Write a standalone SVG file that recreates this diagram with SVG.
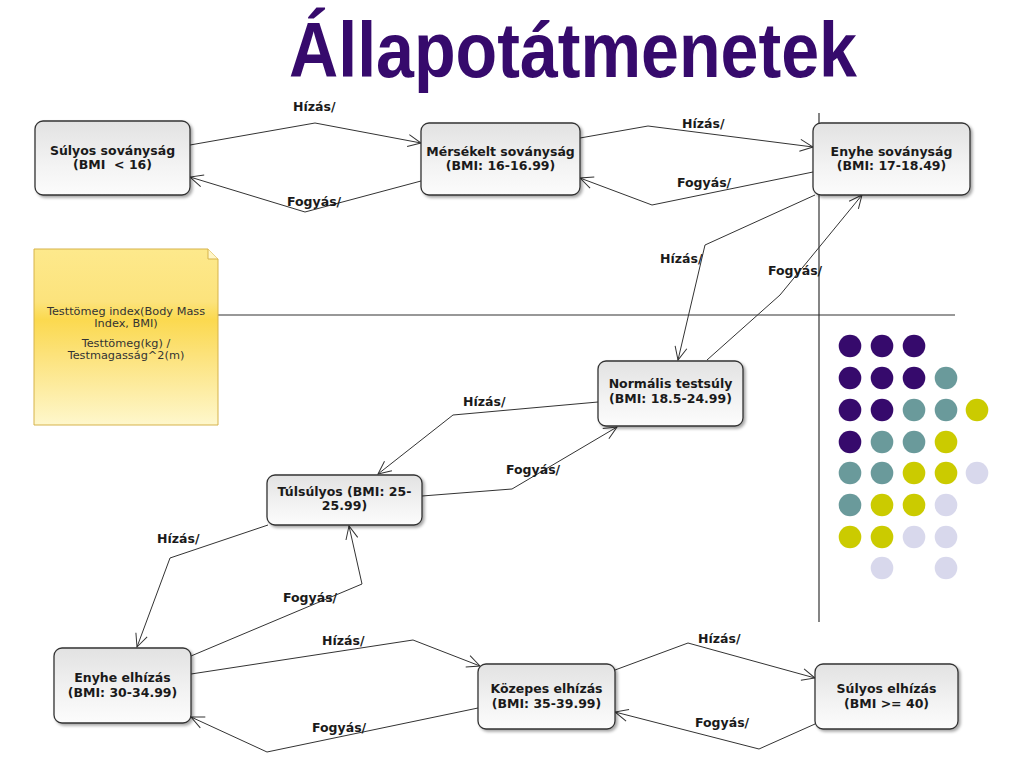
<svg xmlns="http://www.w3.org/2000/svg" width="1024" height="768" viewBox="0 0 1024 768">
<defs>
<linearGradient id="gBox" x1="0" y1="0" x2="0" y2="1">
<stop offset="0" stop-color="#e2e2e2"/>
<stop offset="0.6" stop-color="#f3f3f3"/>
<stop offset="1" stop-color="#fcfcfc"/>
</linearGradient>
<linearGradient id="gNote" x1="0" y1="0" x2="0" y2="1">
<stop offset="0" stop-color="#fde98c"/>
<stop offset="0.3" stop-color="#fce37c"/>
<stop offset="0.4" stop-color="#fbd94f"/>
<stop offset="0.6" stop-color="#fce27a"/>
<stop offset="1" stop-color="#fef7cc"/>
</linearGradient>
<filter id="sh" x="-10%" y="-10%" width="125%" height="130%">
<feDropShadow dx="2" dy="2" stdDeviation="1.5" flood-color="#000" flood-opacity="0.35"/>
</filter>
<marker id="arr" markerUnits="userSpaceOnUse" markerWidth="16" markerHeight="14" refX="13" refY="6" orient="auto" overflow="visible">
<path d="M0,0 L13,6 L0,12" fill="none" stroke="#333" stroke-width="1"/>
</marker>
<style>
.box{fill:url(#gBox);stroke:#333;stroke-width:1.3;filter:url(#sh)}
.nt{font-family:"DejaVu Sans",Verdana,sans-serif;font-weight:bold;font-size:12.5px;fill:#1a1a1a;text-anchor:middle}
.lb{font-family:"DejaVu Sans",Verdana,sans-serif;font-weight:bold;font-size:12.5px;fill:#1a1a1a}
.e{fill:none;stroke:#333;stroke-width:1;marker-end:url(#arr)}
.ln{stroke:#333;stroke-width:1.2}
.p{fill:#360a6c}.t{fill:#6a9a9b}.y{fill:#cbcb00}.l{fill:#d8d8ec}
</style>
</defs>
<rect width="1024" height="768" fill="#fff"/>
<text x="289" y="77" font-family="'Liberation Sans',Arial,sans-serif" font-weight="bold" font-size="78" fill="#360a6c" textLength="568" lengthAdjust="spacingAndGlyphs">Állapotátmenetek</text>

<g id="guides">
<line class="ln" x1="819" y1="113" x2="819" y2="622"/>
<line class="ln" x1="218" y1="315" x2="955" y2="315"/>
</g>

<g id="dots">
<circle class="p" cx="850" cy="346" r="11.3"/><circle class="p" cx="882" cy="346" r="11.3"/><circle class="p" cx="914" cy="346" r="11.3"/>
<circle class="p" cx="850" cy="378" r="11.3"/><circle class="p" cx="882" cy="378" r="11.3"/><circle class="p" cx="914" cy="378" r="11.3"/><circle class="t" cx="946" cy="378" r="11.3"/>
<circle class="p" cx="850" cy="410" r="11.3"/><circle class="p" cx="882" cy="410" r="11.3"/><circle class="t" cx="914" cy="410" r="11.3"/><circle class="t" cx="946" cy="410" r="11.3"/><circle class="y" cx="977" cy="410" r="11.3"/>
<circle class="p" cx="850" cy="442" r="11.3"/><circle class="t" cx="882" cy="442" r="11.3"/><circle class="t" cx="914" cy="442" r="11.3"/><circle class="y" cx="946" cy="442" r="11.3"/>
<circle class="t" cx="850" cy="473" r="11.3"/><circle class="t" cx="882" cy="473" r="11.3"/><circle class="y" cx="914" cy="473" r="11.3"/><circle class="y" cx="946" cy="473" r="11.3"/><circle class="l" cx="977" cy="473" r="11.3"/>
<circle class="t" cx="850" cy="505" r="11.3"/><circle class="y" cx="882" cy="505" r="11.3"/><circle class="y" cx="914" cy="505" r="11.3"/><circle class="l" cx="946" cy="505" r="11.3"/>
<circle class="y" cx="850" cy="537" r="11.3"/><circle class="y" cx="882" cy="537" r="11.3"/><circle class="l" cx="914" cy="537" r="11.3"/><circle class="l" cx="946" cy="537" r="11.3"/>
<circle class="l" cx="882" cy="568" r="11.3"/><circle class="l" cx="946" cy="568" r="11.3"/>
</g>

<g id="connectors">
<polyline class="e" points="190,145 315,123 421,143"/>
<polyline class="e" points="421,181 305,212 190,177"/>
<polyline class="e" points="580,138 648,126 813,147"/>
<polyline class="e" points="813,172 652,205 580,178"/>
<polyline class="e" points="815,195 705,245 678,360"/>
<polyline class="e" points="707,360 780,295 862,195"/>
<polyline class="e" points="598,402 453,415 378,474"/>
<polyline class="e" points="422,496 512,489 617,427"/>
<polyline class="e" points="268,525 170,558 137,647"/>
<polyline class="e" points="191,656 362,584 349,526"/>
<polyline class="e" points="191,674 413,640 480,666"/>
<polyline class="e" points="478,708 267,752 191,717"/>
<polyline class="e" points="615,670 688,643 815,678"/>
<polyline class="e" points="815,724 759,749 615,712"/>
<text class="lb" x="293" y="111">Hízás/</text>
<text class="lb" x="287" y="206">Fogyás/</text>
<text class="lb" x="682" y="128">Hízás/</text>
<text class="lb" x="677" y="187">Fogyás/</text>
<text class="lb" x="660" y="263">Hízás/</text>
<text class="lb" x="768" y="275">Fogyás/</text>
<text class="lb" x="463" y="406">Hízás/</text>
<text class="lb" x="506" y="474">Fogyás/</text>
<text class="lb" x="157" y="543">Hízás/</text>
<text class="lb" x="283" y="602">Fogyás/</text>
<text class="lb" x="322" y="645">Hízás/</text>
<text class="lb" x="312" y="732">Fogyás/</text>
<text class="lb" x="698" y="643">Hízás/</text>
<text class="lb" x="695" y="727">Fogyás/</text>
</g>

<g id="note">
<path d="M34,249 H208 L218,259 V425 H34 Z" fill="url(#gNote)" stroke="#d6b34a" stroke-width="1"/>
<path d="M208,249 V259 H218" fill="#fff6c8" stroke="#d6b34a" stroke-width="1"/>
<g font-family="'DejaVu Sans',Verdana,sans-serif" font-size="11.3" fill="#333" text-anchor="middle">
<text x="126" y="315">Testtömeg index(Body Mass</text>
<text x="126" y="327">Index, BMI)</text>
<text x="126" y="347">Testtömeg(kg) /</text>
<text x="126" y="359">Testmagasság^2(m)</text>
</g>
</g>

<g id="n1"><rect class="box" x="35" y="121" width="155" height="74" rx="8"/>
<text class="nt" x="112.5" y="155">Súlyos soványság</text><text class="nt" x="112.5" y="169" style="white-space:pre">(BMI  &lt; 16)</text></g>
<g id="n2"><rect class="box" x="421" y="123" width="159" height="72" rx="8"/>
<text class="nt" x="500.5" y="156">Mérsékelt soványság</text><text class="nt" x="500.5" y="170">(BMI: 16-16.99)</text></g>
<g id="n3"><rect class="box" x="813" y="123" width="157" height="72" rx="8"/>
<text class="nt" x="891.5" y="156">Enyhe soványság</text><text class="nt" x="891.5" y="170">(BMI: 17-18.49)</text></g>
<g id="n4"><rect class="box" x="598" y="361" width="145" height="65" rx="8"/>
<text class="nt" x="670.5" y="388">Normális testsúly</text><text class="nt" x="670.5" y="403">(BMI: 18.5-24.99)</text></g>
<g id="n5"><rect class="box" x="267" y="475" width="155" height="50" rx="8"/>
<text class="nt" x="344.5" y="496">Túlsúlyos (BMI: 25-</text><text class="nt" x="344.5" y="510">25.99)</text></g>
<g id="n6"><rect class="box" x="54" y="648" width="137" height="75" rx="8"/>
<text class="nt" x="122.5" y="682">Enyhe elhízás</text><text class="nt" x="122.5" y="697">(BMI: 30-34.99)</text></g>
<g id="n7"><rect class="box" x="478" y="664" width="137" height="65" rx="8"/>
<text class="nt" x="546.5" y="693">Közepes elhízás</text><text class="nt" x="546.5" y="708">(BMI: 35-39.99)</text></g>
<g id="n8"><rect class="box" x="815" y="664" width="143" height="65" rx="8"/>
<text class="nt" x="886.5" y="693">Súlyos elhízás</text><text class="nt" x="886.5" y="708">(BMI &gt;= 40)</text></g>
</svg>
